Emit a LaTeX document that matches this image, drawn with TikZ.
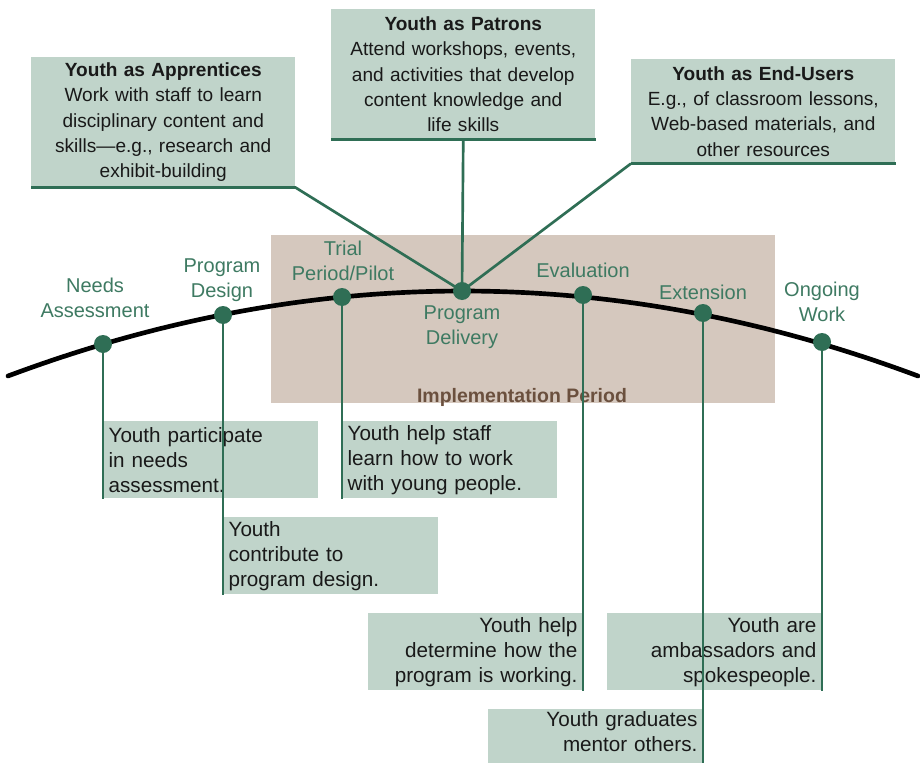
\documentclass[tikz,border=0pt]{standalone}
\usepackage{fontspec}
\setmainfont{Liberation Sans}
\definecolor{boxfill}{RGB}{192,212,202}
\definecolor{implfill}{RGB}{213,200,190}
\definecolor{labelgreen}{RGB}{62,122,98}
\definecolor{darkgreen}{RGB}{47,110,85}
\definecolor{impltext}{RGB}{107,80,62}
\definecolor{textblack}{RGB}{25,25,25}
\begin{document}
\begin{tikzpicture}[x=0.75pt,y=-0.75pt,
  bbox/.style={fill=boxfill, inner xsep=4pt, inner ysep=0pt, text width=153.25pt,
    minimum height=57.75pt, text=textblack, font=\fontsize{15.5}{18.8}\selectfont},
  lbox/.style={bbox, align=left},
  rbox/.style={bbox, align=right},
  tbox/.style={fill=boxfill, inner xsep=4pt, inner ysep=0pt, text width=190pt,
    align=center, text=textblack, font=\fontsize{14.3}{19}\selectfont},
  stage/.style={text=labelgreen, align=center, inner sep=0pt,
    font=\fontsize{15}{18.75}\selectfont},
  conn/.style={draw=darkgreen, line width=2pt},
  underline/.style={draw=darkgreen, line width=2.2pt},
  dot/.style={circle, fill=darkgreen, minimum size=13.5pt, inner sep=0pt},
  curve/.style={line width=3.5pt, line cap=round, black}
]
\useasboundingbox (0,0) rectangle (920,763);
\clip (0,0) rectangle (920,763);
\fill[white] (0,0) rectangle (920,763);

% implementation period
\node[fill=implfill, minimum width=378pt, minimum height=126pt, anchor=north west, inner sep=0pt] (impl) at (271,235) {};
\node[text=impltext, font=\fontsize{14.6}{17}\bfseries, inner sep=0pt, anchor=base] (impllabel) at (522,402) {Implementation Period};

% top boxes
\node[tbox, minimum height=97.5pt, anchor=north west] (appr) at (31,57)
  {{\bfseries Youth as Apprentices}\\Work with staff to learn\\disciplinary content and\\skills---e.g., research and\\exhibit-building};
\node[tbox, minimum height=97.5pt, anchor=north west] (patr) at (331,9)
  {{\bfseries Youth as Patrons}\\Attend workshops, events,\\and activities that develop\\content knowledge and\\life skills};
\node[tbox, minimum height=78pt, anchor=north west] (endu) at (631,59)
  {{\bfseries Youth as End-Users}\\E.g., of classroom lessons,\\Web-based materials, and\\other resources};
\draw[underline] (appr.south west) -- (appr.south east);
\draw[underline] (patr.south west) -- (patr.south east);
\draw[underline] (endu.south west) -- (endu.south east);

% bottom boxes
\node[lbox, anchor=north west] (b1) at (103,421) {Youth participate\\in needs\\assessment.};
\node[lbox, anchor=north west] (b2) at (223,517) {Youth\\contribute to\\program design.};
\node[lbox, anchor=north west] (b3) at (342,421) {Youth help staff\\learn how to work\\with young people.};
\node[rbox, anchor=north east] (b5) at (583,613) {Youth help\\determine how the\\program is working.};
\node[rbox, anchor=north east] (b7) at (822,613) {Youth are\\ambassadors and\\spokespeople.};
\node[rbox, anchor=north east] (b6) at (703,709) {Youth graduates\\mentor others.\\\strut};

% stage labels
\node[stage] (l1) at (95,298) {Needs\\Assessment};
\node[stage] (l2) at (222,280) {Program\\Design};
\node[stage] (l3) at (343,261) {Trial\\Period/Pilot};
\node[stage] (l4) at (462,327) {Program\\Delivery};
\node[stage] (l5) at (583,270) {Evaluation};
\node[stage] (l6) at (703,292) {Extension};
\node[stage] (l7) at (822,302) {Ongoing\\Work};

% dot positions
\coordinate (p1) at (103,344);
\coordinate (p2) at (223,315);
\coordinate (p3) at (342,297);
\coordinate (p4) at (462,291);
\coordinate (p5) at (583,295);
\coordinate (p6) at (703,313);
\coordinate (p7) at (822,342);

% connectors
\draw[conn] (p1) -- (b1.south west);
\draw[conn] (p2) -- (b2.south west);
\draw[conn] (p3) -- (b3.south west);
\draw[conn] (p5) -- (b5.south east);
\draw[conn] (p6) -- (b6.south east);
\draw[conn] (p7) -- (b7.south east);
\draw[conn] (appr.south east) -- (p4);
\draw[conn] (patr.south) -- (p4);
\draw[conn] (endu.south west) -- (p4);

% curve
\draw[curve] (8,376) .. controls (311.3,262.7) and (614.7,262.7) .. (918,376);

% dots
\node[dot] (d1) at (p1) {};
\node[dot] (d2) at (p2) {};
\node[dot] (d3) at (p3) {};
\node[dot] (d4) at (p4) {};
\node[dot] (d5) at (p5) {};
\node[dot] (d6) at (p6) {};
\node[dot] (d7) at (p7) {};
\end{tikzpicture}
\end{document}
